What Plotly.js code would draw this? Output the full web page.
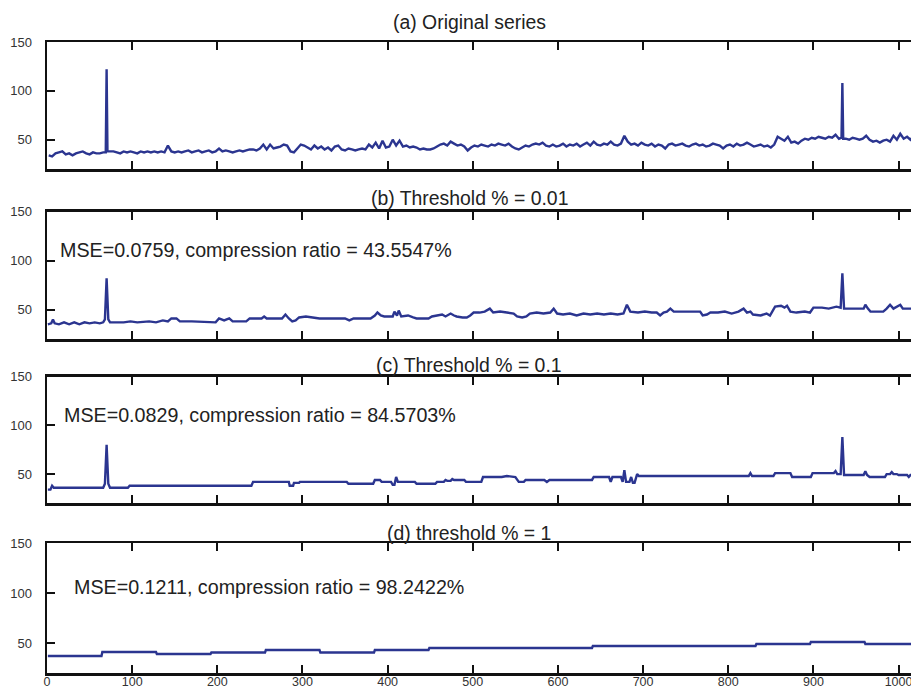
<!DOCTYPE html>
<html>
<head>
<meta charset="utf-8">
<script src="https://cdn.plot.ly/plotly-3.0.1.min.js"></script>
<style>
  html, body { margin: 0; padding: 0; background: #ffffff; overflow: hidden; }
  #chart { width: 925px; height: 690px; }
</style>
</head>
<body>
<div id="chart"></div>
<script>
// ---- data -------------------------------------------------------------
// (a) original series, sampled every 4 points starting at index 2
const origStart = 2;
const origStep = 4;
const origY = [
  34,33,36,37,38,35,36,34,36,37,
  38,36,35,37,36,36,37,122,38,38,
  37,36,38,37,38,37,36,38,37,38,
  37,38,37,38,37,44,38,37,38,37,
  38,39,37,38,39,37,38,39,37,38,
  41,38,39,38,37,38,39,38,39,40,
  40,39,41,45,40,45,41,42,43,45,
  44,38,37,41,45,44,42,40,44,41,
  43,40,42,39,43,44,40,39,41,40,
  39,40,41,40,45,42,47,41,49,42,
  43,50,44,49,43,44,42,43,42,40,
  41,40,40,41,43,45,46,44,48,46,
  44,45,43,39,42,44,43,45,44,43,
  45,44,46,45,44,46,43,41,40,42,
  44,43,45,46,45,47,44,43,45,43,
  44,46,43,45,44,46,43,45,47,44,
  48,45,44,46,45,48,45,44,46,54,
  48,45,46,44,47,45,44,46,43,45,
  44,41,45,46,44,45,46,44,43,45,
  46,44,45,43,44,46,45,44,41,44,
  45,43,46,44,45,47,45,43,44,45,
  43,44,42,45,53,51,49,53,47,48,
  46,49,51,50,52,51,53,52,51,53,
  52,55,51,108,51,50,52,51,50,51,
  54,50,48,49,47,49,50,48,54,50,
  56,51,53,50,54,52
];
// samples either side of the two outliers
const origExtraX = [69, 71, 933, 935];
const origExtraY = [37, 38, 52, 51];

// (b) reconstruction, threshold 0.01
const bX = [1,5,7,9,14,20,26,32,38,44,50,56,62,66,68,70,72,74,90,98,
  106,120,128,136,142,146,152,156,170,198,202,208,214,218,234,238,252,255,258,276,
  280,284,288,292,296,304,312,320,340,350,355,360,380,385,388,392,396,406,408,411,
  413,416,424,430,434,448,452,458,464,468,474,478,
  481,488,493,497,501,508,514,520,524,532,540,548,552,558,563,567,575,583,591,595,
  599,606,614,622,630,638,646,654,662,670,677,681,685,694,702,710,716,720,724,728,
  732,736,767,770,775,779,788,796,804,812,818,822,826,829,838,845,849,855,862,866,
  869,873,880,890,896,900,910,918,927,932,934,936,945,959,961,964,967,975,982,986,
  990,994,1002,1005,1014,1024];
const bY = [35,36,40,36,35,37,35,37,35,37,36,37,36,37,40,82,40,37,37,38,
  37,38,37,39,38,41,41,38,38,37,41,39,41,38,38,41,41,43,41,41,
  45,41,38,39,42,43,42,41,41,41,39,41,41,44,47,44,43,43,48,44,
  49,43,44,42,41,41,43,44,45,43,46,44,
  43,42,42,44,47,47,48,51,47,48,47,46,43,42,43,46,47,46,47,51,
  46,45,46,44,46,45,46,45,46,45,46,55,48,47,48,47,47,44,47,48,
  51,48,48,44,45,47,47,48,46,48,51,47,48,45,44,46,44,53,54,52,
  54,48,47,48,47,52,52,51,53,52,87,51,51,51,55,51,48,48,48,51,
  55,51,55,51,51,51];

// (c) reconstruction, threshold 0.1
const cX = [1,4,6,8,66,68,70,72,74,95,97,240,242,284,285,289,290,296,297,352,
  354,383,385,391,393,404,406,408,410,412,432,434,456,458,466,468,470,474,476,478,
  490,492,510,512,534,540,550,554,560,562,584,587,590,640,642,660,662,664,674,676,
  678,680,684,686,688,690,693,695,824,826,828,853,855,873,875,897,899,924,926,928,
  932,934,936,959,961,963,966,984,986,990,992,994,998,1000,1010,1012,1014,1024];
const cY = [34,34,38,36,36,40,80,40,36,36,38,38,42,42,38,38,41,41,42,42,
  40,40,44,44,42,42,39,39,47,42,42,40,40,42,42,44,43,43,45,44,
  44,42,42,47,47,48,47,42,42,44,44,42,44,44,47,47,42,47,47,42,
  54,42,42,47,41,41,50,48,48,51,48,48,51,51,47,47,51,51,53,50,
  50,88,49,49,53,49,47,47,50,50,52,50,50,49,49,47,49,49];

// (d) reconstruction, threshold 1: one level per block of 64 samples
const dBlockStart = [0,64,128,192,256,320,384,448,512,576,640,704,768,832,896,960];
const dBlockLevel = [37,41,39,40.5,43,40.5,43,45,45,45,47,47,47,49,51,49];
const dBlockLen = 64;

const panelTitles = [
  '(a) Original series',
  '(b) Threshold % = 0.01',
  '(c) Threshold % = 0.1',
  '(d) threshold % = 1'
];
const panelNotes = [
  '',
  'MSE=0.0759, compression ratio = 43.5547%',
  'MSE=0.0829, compression ratio = 84.5703%',
  'MSE=0.1211, compression ratio = 98.2422%'
];
const xTicks = [0,100,200,300,400,500,600,700,800,900,1000];
const yTicks = [50,100,150];
const xRange = [0, 1024];
const yRange = [20, 150];

// ---- series assembly --------------------------------------------------
const aPts = origY.map((v, i) => [origStart + i * origStep, v])
  .concat(origExtraX.map((x, i) => [x, origExtraY[i]]))
  .sort((p, q) => p[0] - q[0]);
const aX = aPts.map(p => p[0]);
const aY = aPts.map(p => p[1]);

const dX = [], dY = [];
dBlockStart.forEach((s, i) => {
  dX.push(s + 1, s + dBlockLen);
  dY.push(dBlockLevel[i], dBlockLevel[i]);
});

// ---- layout -----------------------------------------------------------
const W = 925, H = 690;
const M = { l: 47, r: 6, t: 42, b: 17 };
const plotW = W - M.l - M.r, plotH = H - M.t - M.b;
const fx = px => (px - M.l) / plotW;
const fy = py => (H - M.b - py) / plotH;

// vertical extent of each panel, pixels from top
const panelPx = [[42, 169], [211.7, 339], [376.7, 503.3], [543.3, 673]];
const titleY = [21.5, 198, 365, 532.5];
const noteX = [0, 58, 62, 72];
const noteY = [0, 250, 415, 587];

const FONT = 'Liberation Sans, Arial, Helvetica, sans-serif';
const lineColor = '#2b3590';

const seriesX = [aX, bX, cX, dX];
const seriesY = [aY, bY, cY, dY];

const traces = seriesX.map((xs, i) => ({
  x: xs,
  y: seriesY[i],
  type: 'scatter',
  mode: 'lines',
  line: { color: lineColor, width: 2.4, simplify: false },
  xaxis: i === 0 ? 'x' : 'x' + (i + 1),
  yaxis: i === 0 ? 'y' : 'y' + (i + 1),
  hoverinfo: 'skip',
  showlegend: false
}));

const layout = {
  width: W,
  height: H,
  margin: M,
  paper_bgcolor: '#ffffff',
  plot_bgcolor: '#ffffff',
  showlegend: false,
  font: { family: FONT, color: '#222' },
  annotations: []
};

panelPx.forEach((pp, i) => {
  const n = i === 0 ? '' : String(i + 1);
  const last = i === panelPx.length - 1;
  layout['xaxis' + n] = {
    range: xRange,
    domain: [0, 1],
    anchor: 'y' + n,
    tickmode: 'array',
    tickvals: xTicks,
    ticktext: xTicks.map(String),
    showticklabels: last,
    ticks: 'inside',
    ticklen: 8,
    tickwidth: 2,
    tickcolor: '#111',
    showline: true,
    linewidth: 2.5,
    linecolor: '#111',
    mirror: 'ticks',
    showgrid: false,
    zeroline: false,
    ticklabelstandoff: -5,
    tickfont: { family: FONT, size: 12.5, color: '#333' },
    fixedrange: true
  };
  layout['yaxis' + n] = {
    range: yRange,
    domain: [fy(pp[1]), fy(pp[0])],
    anchor: 'x' + n,
    tickmode: 'array',
    tickvals: yTicks,
    ticktext: yTicks.map(String),
    ticks: 'inside',
    ticklen: 8,
    tickwidth: 2,
    tickcolor: '#111',
    showline: true,
    linewidth: 2.5,
    linecolor: '#111',
    mirror: 'ticks',
    showgrid: false,
    zeroline: false,
    ticklabelstandoff: 10,
    tickfont: { family: FONT, size: 13, color: '#333' },
    fixedrange: true
  };
  layout.annotations.push({
    text: panelTitles[i],
    xref: 'paper', yref: 'paper',
    x: fx(469), y: fy(titleY[i]),
    xanchor: 'center', yanchor: 'middle',
    showarrow: false,
    font: { family: FONT, size: 19.4, color: '#222' }
  });
  if (panelNotes[i]) {
    layout.annotations.push({
      text: panelNotes[i],
      xref: 'paper', yref: 'paper',
      x: fx(noteX[i]), y: fy(noteY[i]),
      xanchor: 'left', yanchor: 'middle',
      showarrow: false,
      font: { family: FONT, size: 19.7, color: '#222' }
    });
  }
});

Plotly.newPlot('chart', traces, layout, { staticPlot: true, displayModeBar: false });
</script>
</body>
</html>
